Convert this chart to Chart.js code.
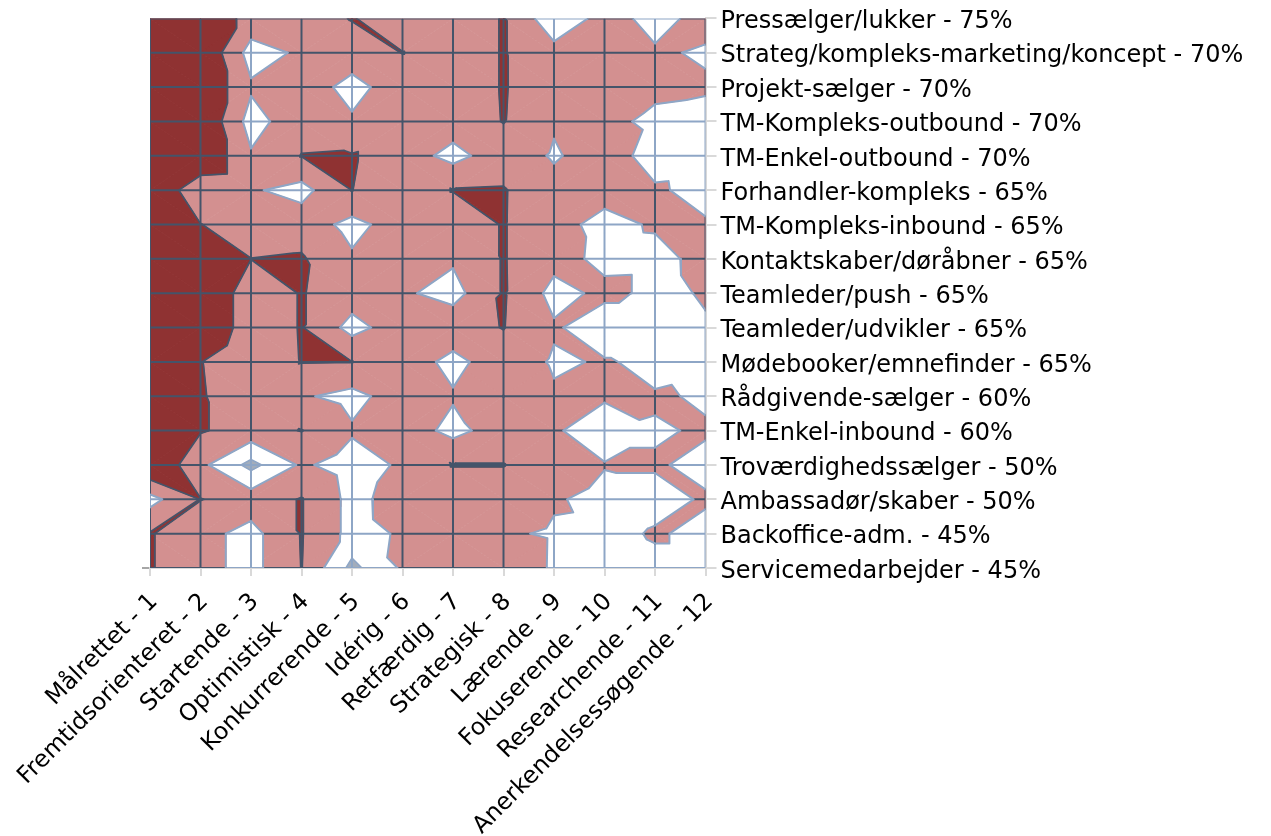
<!DOCTYPE html>
<html lang="en">
<head>
    <meta charset="UTF-8">
    <title>Contour chart</title>
    <style>
        html, body { margin: 0; padding: 0; background: #ffffff; }
        canvas { display: block; }
    </style>
</head>
<body>
    <canvas id="myChart" width="1271" height="836"></canvas>

    <script src="https://cdn.jsdelivr.net/npm/chart.js"></script>
    <script>
    const xLabels = ['Målrettet - 1', 'Fremtidsorienteret - 2', 'Startende - 3', 'Optimistisk - 4', 'Konkurrerende - 5', 'Idérig - 6',
        'Retfærdig - 7', 'Strategisk - 8', 'Lærende - 9', 'Fokuserende - 10', 'Researchende - 11', 'Anerkendelsessøgende - 12'];
    const yLabels = ['Pressælger/lukker - 75%', 'Strateg/kompleks-marketing/koncept - 70%', 'Projekt-sælger - 70%', 'TM-Kompleks-outbound - 70%',
        'TM-Enkel-outbound - 70%', 'Forhandler-kompleks - 65%', 'TM-Kompleks-inbound - 65%', 'Kontaktskaber/døråbner - 65%',
        'Teamleder/push - 65%', 'Teamleder/udvikler - 65%', 'Mødebooker/emnefinder - 65%', 'Rådgivende-sælger - 60%',
        'TM-Enkel-inbound - 60%', 'Troværdighedssælger - 50%', 'Ambassadør/skaber - 50%', 'Backoffice-adm. - 45%', 'Servicemedarbejder - 45%'];

    // surface heights, one row per label
    const pressaelger = [4, 3.97, 2.6, 2.5, 3.05, 2.5, 2.5, 3.05, 1.35, 2.32, 1.75, 2.25];
    const strateg = [4, 4, 1.62, 2.14, 2.49, 3.02, 2.5, 3.05, 2.32, 2.5, 2.09, 1.92];
    const projekt = [4, 4, 2.13, 2.5, 1.7, 2.5, 2.5, 3.05, 2.5, 2.5, 2.15, 2.09];
    const tmKompleksOut = [4, 4, 1.62, 2.62, 2.12, 2.5, 2.5, 3.03, 2.1, 2.18, 1.85, 1.74];
    const tmEnkelOut = [4, 4, 2.1, 3.03, 3.07, 2.5, 1.69, 2.55, 1.9, 2.47, 1.62, 1.7];
    const forhandler = [4, 2.25, 2.11, 1.67, 3.01, 2.5, 3.03, 3.06, 2.33, 2.2, 2.11, 1.74];
    const tmKompleksIn = [4, 3.02, 2.5, 2.54, 1.7, 2.49, 2.5, 3.05, 2.19, 1.83, 2.06, 2.08];
    const kontaktskaber = [4, 3.5, 3.01, 3.1, 2.13, 2.5, 2.13, 3.05, 2.3, 1.8, 1.83, 2.17];
    const teamPush = [4, 4, 2.46, 3.05, 2.5, 2.14, 1.65, 3.06, 1.7, 2.2, 1.82, 2.06];
    const teamUdvikler = [4, 4, 2.46, 3.05, 1.67, 2.54, 2.65, 3.03, 2.11, 1.5, 1.5, 1.94];
    const moedebooker = [4, 3.03, 2.1, 3.03, 3.01, 2.58, 1.7, 2.6, 1.885, 2.07, 1.81, 1.9];
    const raadgivende = [4, 3.07, 2.5, 2.11, 1.7, 2.49, 2.1, 3.01, 2.12, 2.09, 2.05, 1.95];
    const tmEnkelIn = [4, 3.07, 2.65, 3.03, 2.12, 2.58, 1.7, 2.5, 2.09, 1.6, 1.96, 2.04];
    const trovaerdighed = [4, 2.25, 0.69, 2.15, 1.55, 2.14, 3.03, 3.03, 2.5, 2.04, 2.04, 1.9];
    const ambassadoer = [1.67, 3.03, 2.56, 3.05, 1.7, 2.45, 2.5, 2.5, 2.08, 1.77, 1.87, 2.04];
    const backoffice = [3.07, 2.33, 1.67, 3.05, 1.68, 2.1, 2.5, 2.1, 1.91, 1.87, 2.04, 1.9];
    const service = [3.07, 2.33, 1.67, 3.02, 0.72, 2.14, 2.5, 2.6, 1.9, 1.8, 1.9, 1.9];

    const rows = [pressaelger, strateg, projekt, tmKompleksOut, tmEnkelOut, forhandler, tmKompleksIn, kontaktskaber,
        teamPush, teamUdvikler, moedebooker, raadgivende, tmEnkelIn, trovaerdighed, ambassadoer, backoffice, service];

    const levelGrey = 1, levelPink = 2, levelDark = 3;

    const GAP = { x: null, y: null };
    const lerp = (a, b, level) => {
        const t = (level - a.v) / (b.v - a.v);
        return { x: a.x + (b.x - a.x) * t, y: a.y + (b.y - a.y) * t, v: level };
    };

    // split every grid cell in two along the diagonal with the higher average
    const triangles = [];
    for (let r = 0; r < rows.length - 1; r++) {
        for (let c = 0; c < xLabels.length - 1; c++) {
            const a = { x: c + 1, y: r, v: rows[r][c] };
            const b = { x: c + 2, y: r, v: rows[r][c + 1] };
            const d = { x: c + 1, y: r + 1, v: rows[r + 1][c] };
            const e = { x: c + 2, y: r + 1, v: rows[r + 1][c + 1] };
            if (a.v + e.v >= b.v + d.v) {
                triangles.push([a, b, e], [a, e, d]);
            } else {
                triangles.push([a, b, d], [b, e, d]);
            }
        }
    }

    // part of a triangle above (sign 1) or below (sign -1) a level
    function clipTriangle(tri, level, sign) {
        const out = [];
        tri.forEach((p, i) => {
            const q = tri[(i + 1) % tri.length];
            const pIn = (p.v - level) * sign >= 0;
            const qIn = (q.v - level) * sign >= 0;
            if (pIn) out.push(p);
            if (pIn !== qIn) out.push(lerp(p, q, level));
        });
        return out;
    }

    function bandPoints(level, sign) {
        const pts = [];
        triangles.forEach(tri => {
            const poly = clipTriangle(tri, level, sign);
            if (poly.length > 2) pts.push(...poly.map(p => ({ x: p.x, y: p.y })), { ...GAP });
        });
        return pts;
    }

    function contourPoints(level) {
        const pts = [];
        triangles.forEach(tri => {
            const hits = [];
            tri.forEach((p, i) => {
                const q = tri[(i + 1) % 3];
                if ((p.v >= level) !== (q.v >= level)) hits.push(lerp(p, q, level));
            });
            if (hits.length === 2) pts.push({ x: hits[0].x, y: hits[0].y }, { x: hits[1].x, y: hits[1].y }, { ...GAP });
        });
        return pts;
    }

    // wireframe: pale where the surface is in the white band, dark above it
    const wireLow = [], wireHigh = [];
    function addWire(p, q) {
        const push = (list, a, b) => list.push({ x: a.x, y: a.y }, { x: b.x, y: b.y }, { ...GAP });
        const pHigh = p.v >= levelPink, qHigh = q.v >= levelPink;
        if (pHigh === qHigh) {
            push(pHigh ? wireHigh : wireLow, p, q);
        } else {
            const m = lerp(p, q, levelPink);
            push(pHigh ? wireHigh : wireLow, p, m);
            push(qHigh ? wireHigh : wireLow, m, q);
        }
    }
    rows.forEach((row, r) => {
        row.forEach((v, c) => {
            const p = { x: c + 1, y: r, v: v };
            if (c < row.length - 1) addWire(p, { x: c + 2, y: r, v: row[c + 1] });
            if (r < rows.length - 1) addWire(p, { x: c + 1, y: r + 1, v: rows[r + 1][c] });
        });
    });

    const lineSet = (data, color, width) => ({
        data: data, showLine: true, fill: false, borderColor: color, borderWidth: width,
        pointRadius: 0, borderCapStyle: 'round', borderJoinStyle: 'round', spanGaps: false
    });
    const bandSet = (data, color) => ({
        data: data, showLine: true, fill: 'shape', backgroundColor: color, borderColor: color, borderWidth: 1,
        pointRadius: 0, spanGaps: false
    });

    const lightBlue = '#8ea6c6', slate = '#44546a';

    new Chart(document.getElementById('myChart'), {
        type: 'scatter',
        data: {
            // first dataset ends up on top
            datasets: [
                lineSet(contourPoints(levelDark), slate, 1.75),
                lineSet(contourPoints(levelPink), lightBlue, 2),
                lineSet(contourPoints(levelGrey), lightBlue, 1.5),
                lineSet(wireHigh, slate, 2),
                lineSet(wireLow, lightBlue, 2),
                bandSet(bandPoints(levelDark, 1), '#8f3232'),
                bandSet(bandPoints(levelPink, 1), '#d39090'),
                bandSet(bandPoints(levelGrey, -1), '#a3adbb')
            ]
        },
        options: {
            responsive: false,
            animation: false,
            events: [],
            layout: { autoPadding: false, padding: { left: 150, top: 17, right: 0, bottom: 0 } },
            plugins: { legend: { display: false }, tooltip: { enabled: false } },
            scales: {
                x: {
                    type: 'linear', min: 1, max: 12,
                    afterFit: s => { s.height = 836 - 568; },
                    border: { color: '#d9d9d9', width: 2 },
                    grid: { drawOnChartArea: false, color: '#d9d9d9', lineWidth: 2, tickLength: 8 },
                    ticks: {
                        stepSize: 1, autoSkip: false, maxRotation: 45, minRotation: 45, padding: 12, labelOffset: 4,
                        color: '#000000', font: { family: '"DejaVu Sans"', size: 23.7 },
                        callback: v => xLabels[v - 1]
                    }
                },
                y: {
                    type: 'linear', position: 'right', reverse: true, min: 0, max: 16,
                    afterFit: s => { s.width = 1271 - 705.5; },
                    border: { color: '#d9d9d9', width: 2 },
                    grid: { drawOnChartArea: false, color: '#d9d9d9', lineWidth: 2, tickLength: 11 },
                    ticks: {
                        stepSize: 1, autoSkip: false, padding: 4, labelOffset: 3.5,
                        color: '#000000', font: { family: '"DejaVu Sans"', size: 24 },
                        callback: v => yLabels[v]
                    }
                },
                // only carries the short stub left of the origin
                yStub: {
                    type: 'linear', position: 'left', reverse: true, min: 0, max: 16,
                    afterFit: s => { s.width = 0; },
                    afterBuildTicks: s => { s.ticks = [{ value: 16 }]; },
                    border: { display: false },
                    grid: { drawOnChartArea: false, color: '#a6a6a6', lineWidth: 2, tickLength: 8 },
                    ticks: { padding: 0, callback: () => '' }
                }
            }
        }
    });
    </script>
</body>
</html>
